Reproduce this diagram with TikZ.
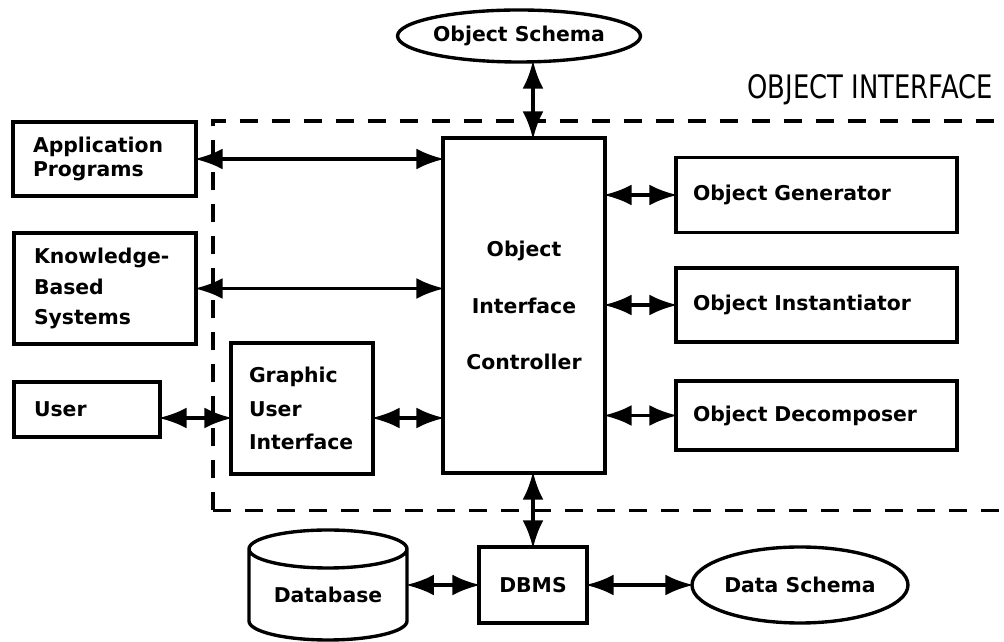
\documentclass[tikz,border=0pt]{standalone}
\usepackage{fontspec}
\setmainfont{DejaVu Sans}
\usetikzlibrary{arrows.meta,shapes.geometric}

\begin{document}
\begin{tikzpicture}[
	box/.style={draw,line width=2.4pt,outer sep=0pt,inner xsep=0.5cm,inner ysep=0pt,align=left},
	oval/.style={draw,ellipse,line width=2.4pt,outer sep=0pt,inner sep=0pt},
	link/.style={line width=2.4pt,shorten <=-1pt,shorten >=-1pt,{Latex[length=7mm,width=5.2mm]}-{Latex[length=7mm,width=5.2mm]}},
	frame/.style={line width=2.4pt,dash pattern=on 4.5mm off 3.5mm},
	font=\fontsize{14.5}{17}\selectfont\bfseries]
	\useasboundingbox (0,0) rectangle (25.1,16.05);
	\node[box,text width=3.575cm,minimum height=1.85cm] (app) at (2.6125,12.075) {Application\\Programs};
	\node[box,text width=3.55cm,minimum height=2.775cm] (kbs) at (2.625,8.8375) {Knowledge-\\[5pt]Based\\[5pt]Systems};
	\node[box,text width=2.65cm,minimum height=1.375cm] (user) at (2.175,5.8125) {User};
	\node[box,inner xsep=0.45cm,text width=2.65cm,minimum height=3.275cm] (gui) at (7.55,5.8375) {Graphic\\[7pt]User\\[7pt]Interface};
	\node[box,align=center,inner xsep=0pt,minimum width=4.05cm,minimum height=8.375cm] (ctrl) at (13.1,8.4125) {Object\\[23pt]Interface\\[23pt]Controller};
	\node[box,inner xsep=0.425cm,text width=6.175cm,minimum height=1.875cm] (gen) at (20.4125,11.175) {Object Generator};
	\node[box,inner xsep=0.425cm,text width=6.175cm,minimum height=1.85cm] (inst) at (20.4125,8.425) {Object Instantiator};
	\node[box,inner xsep=0.425cm,text width=6.175cm,minimum height=1.725cm] (dec) at (20.4125,5.6625) {Object Decomposer};
	\node[box,align=center,inner xsep=0pt,minimum width=2.7cm,minimum height=1.9cm] (dbms) at (13.325,1.425) {DBMS};
	\node[oval,minimum width=5.4cm,minimum height=1.9cm] (dschema) at (20,1.425) {Data Schema};
	\node[oval,minimum width=5.55cm,minimum height=1.3cm] (oschema) at (12.975,15.15) {Object Schema};
	\node[minimum width=3.95cm,inner sep=0pt] (db) at (8.2,1.175) {Database};
	\draw[line width=2.4pt] (6.225,2.325) -- (6.225,0.525) arc[start angle=180,end angle=360,x radius=1.975,y radius=0.475] -- (10.175,2.325) arc[start angle=0,end angle=180,x radius=1.975,y radius=0.475] arc[start angle=180,end angle=360,x radius=1.975,y radius=0.475];
	\node[anchor=base east,inner sep=0pt] (oi) at (24.825,13.575) {\scalebox{0.8}[1]{\mdseries\fontsize{23}{28}\selectfont OBJECT INTERFACE}};
	\draw[frame] (5.325,3.2875) -- (5.325,13.025) -- (25.1,13.025);
	\draw[frame] (5.325,3.2875) -- (25.1,3.2875);
	\coordinate (uy) at (0,5.6);
	\draw[link] (app.east) -- (app.east -| ctrl.west);
	\draw[link] (kbs.east) -- (kbs.east -| ctrl.west);
	\draw[link] (user.east |- uy) -- (gui.west |- uy);
	\draw[link] (gui.east |- uy) -- (ctrl.west |- uy);
	\draw[link] (ctrl.east |- gen.west) -- (gen.west);
	\draw[link] (ctrl.east |- inst.west) -- (inst.west);
	\draw[link] (ctrl.east |- dec.west) -- (dec.west);
	\draw[link] (oschema.south -| dbms.north) -- (ctrl.north -| dbms.north);
	\draw[link] (ctrl.south -| dbms.north) -- (dbms.north);
	\draw[link] (db.east |- dbms.west) -- (dbms.west);
	\draw[link] (dbms.east) -- (dschema.west);
\end{tikzpicture}
\end{document}
